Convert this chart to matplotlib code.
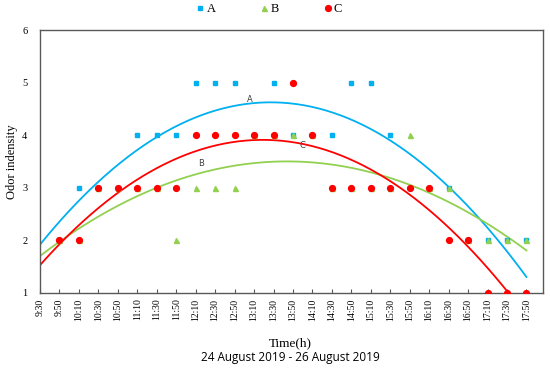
import numpy as np
import matplotlib
matplotlib.use('Agg')
from matplotlib import pyplot as plt

times = ['9:30', '9:50', '10:10', '10:30', '10:50', '11:10', '11:30', '11:50',
         '12:10', '12:30', '12:50', '13:10', '13:30', '13:50', '14:10', '14:30',
         '14:50', '15:10', '15:30', '15:50', '16:10', '16:30', '16:50', '17:10',
         '17:30', '17:50']

# odor intensity per sampling time (None = no reading); index 0 is 9:30
odor_a = [None, 2, 3, 3, 3, 4, 4, 4, 5, 5, 5, 4, 5, 4, 4, 4, 5, 5, 4, 3, 3, 3, 2, 2, 2, 2]
odor_b = [None, 2, 2, 3, 3, 3, 3, 2, 3, 3, 3, 4, 4, 4, 4, 3, 3, 3, 3, 4, 3, 3, 2, 2, 2, 2]
odor_c = [None, 2, 2, 3, 3, 3, 3, 3, 4, 4, 4, 4, 4, 5, 4, 3, 3, 3, 3, 3, 3, 2, 2, 1, 1, 1]

BLUE = '#00B0F0'
GREEN = '#92D050'
RED = '#FF0000'
SERIF = 'Liberation Serif'


def series(vals):
    x = np.array([i for i, v in enumerate(vals) if v is not None], dtype=float)
    y = np.array([v for v in vals if v is not None], dtype=float)
    return x, y


fig = plt.figure(figsize=(5.5, 3.69), dpi=100)
ax = fig.add_axes([40 / 550, 1 - 293 / 369, 503 / 550, 263 / 369])

# quadratic trend lines, as in the original spreadsheet chart
xs = np.linspace(0, 25, 200)
for vals, color in [(odor_a, BLUE), (odor_b, GREEN), (odor_c, RED)]:
    x, y = series(vals)
    coef = np.polyfit(x, y, 2)
    ax.plot(xs, np.polyval(coef, xs), color=color, lw=1.3, zorder=2)

xa, ya = series(odor_a)
xb, yb = series(odor_b)
xc, yc = series(odor_c)
ha = ax.plot(xa, ya, 's', color=BLUE, ms=3.3, ls='none', label='A', zorder=3)[0]
hb = ax.plot(xb, yb, '^', color=GREEN, ms=3.6, ls='none', label='B', zorder=4)[0]
hc = ax.plot(xc, yc, 'o', color=RED, ms=4.2, ls='none', label='C', zorder=5)[0]

ax.text(10.8, 4.6, 'A', fontsize=6, color='#404040', ha='center', va='bottom')
ax.text(8.3, 3.38, 'B', fontsize=6, color='#404040', ha='center', va='bottom')
ax.text(13.5, 3.71, 'C', fontsize=6, color='#404040', ha='center', va='bottom')

ax.set_xlim(0, 25.85)
ax.set_ylim(1, 6)
ax.set_xticks(range(len(times)))
ax.set_xticklabels(times, rotation=90, fontsize=7, family=SERIF)
ax.set_yticks(range(1, 7))
ax.set_yticklabels([str(v) for v in range(1, 7)], fontsize=7.5, family=SERIF)
ax.tick_params(axis='x', direction='in', length=3, color='#595959', pad=4)
ax.tick_params(axis='y', length=0, pad=9)
for s in ax.spines.values():
    s.set_color('#595959')
    s.set_linewidth(1.0)

ax.set_ylabel('Odor indensity', fontsize=9, family=SERIF, labelpad=3)
fig.text(290 / 550, 1 - 343 / 369, 'Time(h)', fontsize=9.5, family=SERIF,
         ha='center', va='center')
fig.text(290 / 550, 1 - 358 / 369, '24 August 2019 - 26 August 2019', fontsize=8.5,
         family='Open Sans', ha='center', va='center')

fig.legend([ha, hb, hc], ['A', 'B', 'C'], loc='center', bbox_to_anchor=(0.49, 1 - 9 / 369),
           ncol=3, frameon=False, prop={'family': SERIF, 'size': 9},
           handlelength=0.6, handletextpad=0.2, columnspacing=3.6, markerscale=1.0)

fig.savefig('out.png', dpi=100)
